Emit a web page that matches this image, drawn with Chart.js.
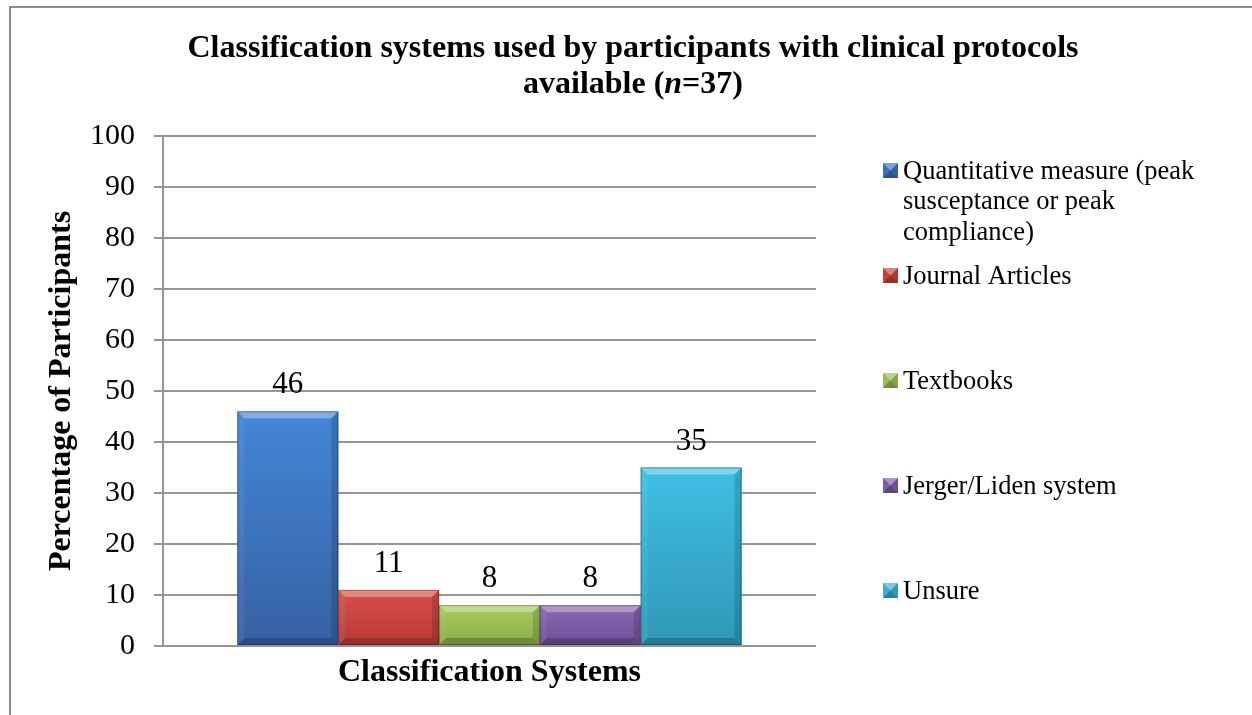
<!DOCTYPE html>
<html>
<head>
<meta charset="utf-8">
<title>Classification systems used by participants</title>
<script src="https://cdn.jsdelivr.net/npm/chart.js@4.4.1/dist/chart.umd.min.js"></script>
<style>
    html, body { margin: 0; padding: 0; background: #ffffff; }
    #wrap { position: relative; width: 1252px; height: 715px; overflow: hidden; }
</style>
</head>
<body>
<div id="wrap"><canvas id="classChart" width="1252" height="715"></canvas></div>
<script>
// --- data ---
const categories = ['Classification Systems'];
const seriesLabels = [
    'Quantitative measure (peak susceptance or peak compliance)',
    'Journal Articles',
    'Textbooks',
    'Jerger/Liden system',
    'Unsure'
];
const seriesValues = [46, 11, 8, 8, 35]; // percentage, one per series
const yTicks = [0, 10, 20, 30, 40, 50, 60, 70, 80, 90, 100];
const titleLine1 = 'Classification systems used by participants with clinical protocols';
const titleLine2 = [['available (', false], ['n', true], ['=37)', false]]; // [text, italic]
const yAxisTitle = 'Percentage of Participants';

// --- styles (office 2007 look, light at top -> dark at bottom) ---
const barColors = [
    { base: '#3c70b8', light: '#4486d6', dark: '#3561a3' },
    { base: '#c4413c', light: '#d9504a', dark: '#b53a36' },
    { base: '#9abb55', light: '#a9cc5e', dark: '#8aab4b' },
    { base: '#7c5ca6', light: '#8868b4', dark: '#6f5196' },
    { base: '#3aaed2', light: '#40bfe2', dark: '#2f98b8' }
];
const SERIF = "'Liberation Serif', 'Times New Roman', serif";
const GRID = '#959595';

Chart.defaults.font.family = SERIF;
Chart.defaults.color = '#000000';

function poly(ctx, pts, fill) {
    ctx.beginPath();
    ctx.moveTo(pts[0][0], pts[0][1]);
    for (let k = 1; k < pts.length; k++) ctx.lineTo(pts[k][0], pts[k][1]);
    ctx.closePath();
    ctx.fillStyle = fill;
    ctx.fill();
}

// white page + the grey frame of the chart object
const framePlugin = {
    id: 'frame',
    beforeDraw(chart) {
        const ctx = chart.ctx;
        ctx.save();
        ctx.fillStyle = '#ffffff';
        ctx.fillRect(0, 0, chart.width, chart.height);
        ctx.strokeStyle = '#8c8c8c';
        ctx.lineWidth = 2;
        ctx.beginPath();
        ctx.moveTo(10, chart.height + 2);
        ctx.lineTo(10, 7);
        ctx.lineTo(chart.width + 2, 7);
        ctx.stroke();
        ctx.restore();
    }
};

// bevel shading on top of the library's bars
const bevelPlugin = {
    id: 'bevel',
    afterDatasetsDraw(chart) {
        const ctx = chart.ctx;
        ctx.save();
        chart.data.datasets.forEach((ds, i) => {
            const c = barColors[i];
            chart.getDatasetMeta(i).data.forEach(bar => {
                const p = bar.getProps(['x', 'y', 'base', 'width'], true);
                const L = p.x - p.width / 2, R = p.x + p.width / 2;
                const T = Math.min(p.y, p.base), B = Math.max(p.y, p.base);
                const g = ctx.createLinearGradient(0, T, 0, B);
                g.addColorStop(0, c.light);
                g.addColorStop(1, c.dark);
                ctx.fillStyle = g;
                ctx.fillRect(L, T, R - L, B - T);
                const b = Math.min(7, (B - T) / 2);
                poly(ctx, [[L, T], [R, T], [R - b, T + b], [L + b, T + b]], 'rgba(255,255,255,0.32)');
                poly(ctx, [[L, T], [L + b, T + b], [L + b, B - b], [L, B]], 'rgba(255,255,255,0.06)');
                poly(ctx, [[R, T], [R, B], [R - b, B - b], [R - b, T + b]], 'rgba(0,0,0,0.14)');
                poly(ctx, [[L, B], [L + b, B - b], [R - b, B - b], [R, B]], 'rgba(0,0,0,0.2)');
                ctx.strokeStyle = 'rgba(0,0,0,0.28)';
                ctx.lineWidth = 1;
                ctx.strokeRect(L + 0.5, T + 0.5, R - L - 1, B - T - 1);
            });
        });
        ctx.restore();
    }
};

// value labels above each bar
const valueLabelPlugin = {
    id: 'valueLabels',
    afterDatasetsDraw(chart) {
        const ctx = chart.ctx;
        ctx.save();
        ctx.font = '31px ' + SERIF;
        ctx.fillStyle = '#000';
        ctx.textAlign = 'center';
        ctx.textBaseline = 'alphabetic';
        chart.data.datasets.forEach((ds, i) => {
            chart.getDatasetMeta(i).data.forEach((bar, j) => {
                ctx.fillText(String(ds.data[j]), bar.x, bar.y - 18);
            });
        });
        ctx.restore();
    }
};

function wrapText(ctx, text, maxW) {
    const words = text.split(' ');
    const lines = [];
    let cur = '';
    words.forEach(w => {
        const test = cur ? cur + ' ' + w : w;
        if (cur && ctx.measureText(test).width > maxW) {
            lines.push(cur);
            cur = w;
        } else {
            cur = test;
        }
    });
    if (cur) lines.push(cur);
    return lines;
}

// title with italic n, and the right-hand legend
const titleLegendPlugin = {
    id: 'titleLegend',
    afterDraw(chart) {
        const ctx = chart.ctx;
        ctx.save();
        ctx.fillStyle = '#000';
        ctx.textBaseline = 'alphabetic';

        // title
        const cx = 633;
        ctx.font = 'bold 32px ' + SERIF;
        ctx.textAlign = 'center';
        ctx.fillText(titleLine1, cx, 57);
        ctx.textAlign = 'left';
        let total = 0;
        const widths = titleLine2.map(s => {
            ctx.font = (s[1] ? 'italic bold 32px ' : 'bold 32px ') + SERIF;
            const w = ctx.measureText(s[0]).width;
            total += w;
            return w;
        });
        let tx = cx - total / 2;
        titleLine2.forEach((s, k) => {
            ctx.font = (s[1] ? 'italic bold 32px ' : 'bold 32px ') + SERIF;
            ctx.fillText(s[0], tx, 93);
            tx += widths[k];
        });

        // legend
        ctx.font = '26.5px ' + SERIF;
        ctx.textBaseline = 'middle';
        const boxX = 883, box = 15, textX = 903, firstY = 172, step = 105, lineH = 30.5;
        chart.data.datasets.forEach((ds, i) => {
            const y0 = firstY + i * step;
            const c = barColors[i];
            const bx = boxX, by = y0 - 9;
            ctx.fillStyle = c.base;
            ctx.fillRect(bx, by, box, box);
            const m = [bx + box / 2, by + box / 2];
            poly(ctx, [[bx, by], [bx + box, by], m], 'rgba(255,255,255,0.35)');
            poly(ctx, [[bx, by + box], [bx + box, by + box], m], 'rgba(0,0,0,0.25)');
            poly(ctx, [[bx + box, by], [bx + box, by + box], m], 'rgba(0,0,0,0.12)');
            ctx.fillStyle = '#000';
            const lines = wrapText(ctx, ds.label, 320);
            lines.forEach((ln, k) => ctx.fillText(ln, textX, y0 + k * lineH));
        });
        ctx.restore();
    }
};

const ctxEl = document.getElementById('classChart');
new Chart(ctxEl.getContext('2d'), {
    type: 'bar',
    data: {
        labels: categories,
        datasets: seriesLabels.map((label, i) => ({
            label: label,
            data: [seriesValues[i]],
            backgroundColor: barColors[i].base,
            borderWidth: 0,
            categoryPercentage: 0.772,
            barPercentage: 1.0
        }))
    },
    options: {
        responsive: false,
        animation: false,
        devicePixelRatio: 1,
        layout: { padding: { left: 0, top: 136, right: 436, bottom: 0 } },
        plugins: {
            legend: { display: false },
            title: { display: false },
            tooltip: { enabled: false }
        },
        scales: {
            x: {
                grid: { display: false },
                border: { display: false },
                ticks: { font: { size: 32, weight: 'bold' }, color: '#000', padding: 0 },
                afterFit(scale) { scale.height = 69; }
            },
            y: {
                min: yTicks[0],
                max: yTicks[yTicks.length - 1],
                ticks: {
                    stepSize: yTicks[1] - yTicks[0],
                    font: { size: 30 },
                    color: '#000',
                    padding: 19
                },
                grid: { color: GRID, lineWidth: 2, tickLength: 9, drawTicks: true },
                border: { display: true, color: GRID, width: 2 },
                title: {
                    display: true,
                    text: yAxisTitle,
                    font: { size: 32, weight: 'bold', lineHeight: 1.2 },
                    color: '#000',
                    padding: { top: 43, bottom: 0 }
                },
                afterFit(scale) { scale.width = 163; }
            }
        }
    },
    plugins: [framePlugin, bevelPlugin, valueLabelPlugin, titleLegendPlugin]
});
</script>
</body>
</html>
